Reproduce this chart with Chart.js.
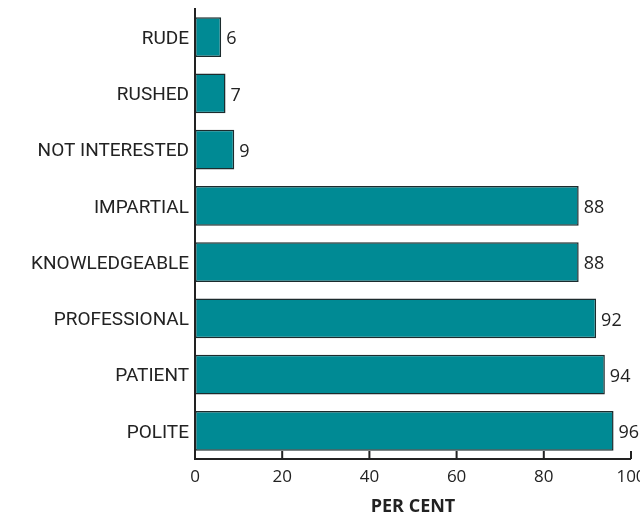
<!DOCTYPE html>
<html>
<head>
<meta charset="utf-8">
<style>
  html, body { margin: 0; padding: 0; background: #fff; overflow: hidden; }
  #wrap { width: 660px; height: 518px; position: relative; }
</style>
<script src="https://cdn.jsdelivr.net/npm/chart.js@4/dist/chart.umd.min.js"></script>
</head>
<body>
<div id="wrap"><canvas id="myChart"></canvas></div>
<script>
const categories = ["RUDE", "RUSHED", "NOT INTERESTED", "IMPARTIAL", "KNOWLEDGEABLE", "PROFESSIONAL", "PATIENT", "POLITE"];
const percentages = [6, 7, 9, 88, 88, 92, 94, 96];
const xTicks = [0, 20, 40, 60, 80, 100];

const TEAL = "#008a94";
const INK = "#222222";
const TEXT = "#222222";

// value labels at the end of each bar
const valueLabels = {
  id: "valueLabels",
  afterDatasetsDraw(chart) {
    const { ctx } = chart;
    const meta = chart.getDatasetMeta(0);
    ctx.save();
    ctx.font = "18px 'Open Sans'";
    ctx.fillStyle = TEXT;
    ctx.textAlign = "left";
    ctx.textBaseline = "middle";
    meta.data.forEach((bar, i) => {
      ctx.fillText(String(percentages[i]), bar.x + 5, bar.y + 2);
    });
    ctx.restore();
  },
};

// axis lines plus short tick marks pointing up into the plot
const axisLines = {
  id: "axisLines",
  afterDraw(chart) {
    const { ctx, chartArea } = chart;
    const x = chart.scales.x;
    ctx.save();
    ctx.strokeStyle = INK;
    ctx.lineWidth = 2;
    ctx.beginPath();
    ctx.moveTo(chartArea.left, chartArea.top - 1);
    ctx.lineTo(chartArea.left, chartArea.bottom);
    ctx.lineTo(x.getPixelForValue(100), chartArea.bottom);
    xTicks.forEach((t) => {
      const px = x.getPixelForValue(t);
      ctx.moveTo(px, chartArea.bottom);
      ctx.lineTo(px, chartArea.bottom - 8);
    });
    ctx.stroke();
    ctx.restore();
  },
};

new Chart(document.getElementById("myChart"), {
  type: "bar",
  data: {
    labels: categories,
    datasets: [
      {
        data: percentages,
        backgroundColor: TEAL,
        borderColor: "#1c2b2d",
        borderWidth: 1.5,
        borderSkipped: false,
        barPercentage: 0.71,
        categoryPercentage: 1,
      },
    ],
  },
  options: {
    indexAxis: "y",
    responsive: true,
    maintainAspectRatio: false,
    animation: false,
    layout: { padding: { top: 9, right: 29, left: 0, bottom: 0 } },
    plugins: { legend: { display: false }, tooltip: { enabled: false } },
    scales: {
      x: {
        min: 0,
        max: 100,
        afterBuildTicks(scale) {
          scale.ticks = xTicks.map((v) => ({ value: v }));
        },
        afterFit(scale) {
          scale.height = 59;
        },
        grid: { display: false, drawTicks: false },
        border: { display: false },
        ticks: {
          color: TEXT,
          padding: 8,
          maxRotation: 0,
          font: { family: "'Open Sans'", size: 17 },
        },
        title: {
          display: true,
          text: "PER CENT",
          color: TEXT,
          padding: { top: 0, bottom: 0 },
          font: { family: "'Open Sans'", size: 18, weight: "bold" },
        },
      },
      y: {
        afterFit(scale) {
          scale.width = 195;
          scale.paddingTop = 0;
          scale.paddingBottom = 0;
        },
        grid: { display: false, drawTicks: false },
        border: { display: false },
        ticks: {
          color: TEXT,
          padding: 6,
          labelOffset: 2,
          font: { family: "Roboto", size: 19 },
        },
      },
    },
  },
  plugins: [valueLabels, axisLines],
});
</script>
</body>
</html>
